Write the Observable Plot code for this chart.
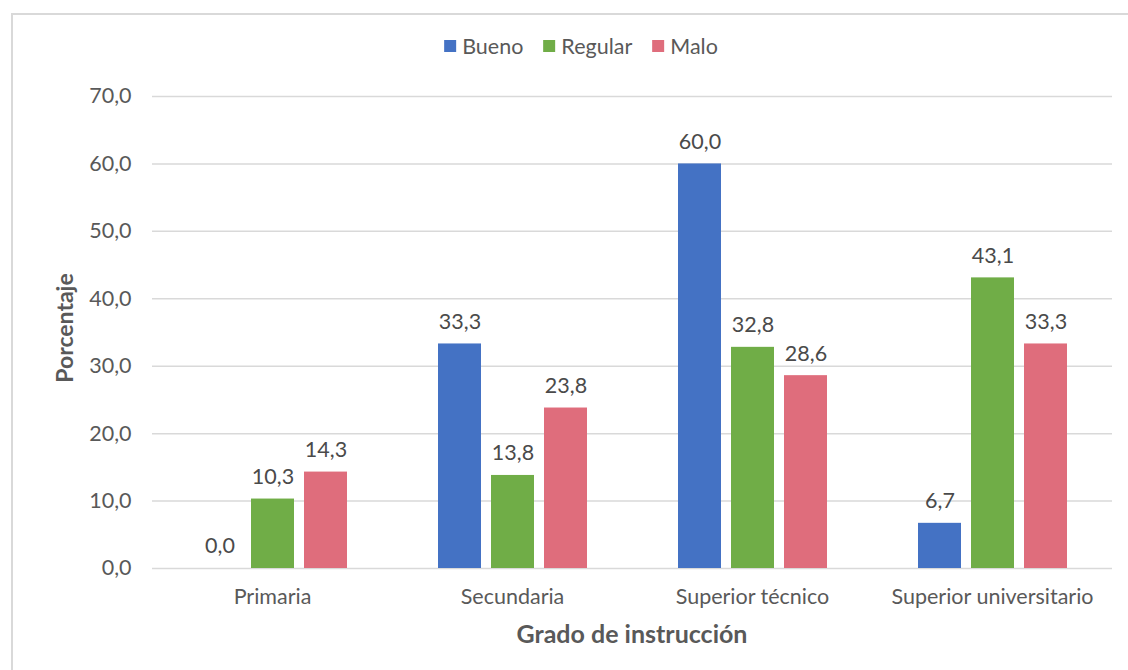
<!DOCTYPE html>
<html>
<head>
<meta charset="utf-8">
<script src="https://cdn.jsdelivr.net/npm/d3@7"></script>
<script src="https://cdn.jsdelivr.net/npm/@observablehq/plot@0.6"></script>
<style>
  body { margin: 0; background: #fff; font-family: Lato, "Open Sans", sans-serif; }
  #chart { position: relative; width: 1128px; height: 670px; overflow: hidden; }
  #frame { position: absolute; left: 11px; top: 13px; width: 1300px; height: 800px;
           border-left: 2px solid #d9d9d9; border-top: 2px solid #d9d9d9; }
  #plot { position: absolute; left: 0; top: 0; }
  #legend { position: absolute; top: 33px; left: 581px; transform: translateX(-50%);
            display: flex; align-items: center; font-size: 21.5px; color: #595959; white-space: nowrap; }
  #legend .item { display: flex; align-items: center; margin: 0 10px; }
  #legend .sw { width: 12px; height: 12px; margin-right: 6px; }
  .ytitle { position: absolute; left: 64px; top: 328px; transform: translate(-50%, -50%) rotate(-90deg);
            font-size: 23px; font-weight: bold; color: #595959; white-space: nowrap; }
  .xtitle { position: absolute; left: 632px; top: 633px; transform: translate(-50%, -50%);
            font-size: 25px; font-weight: bold; color: #595959; white-space: nowrap; }
</style>
</head>
<body>
<div id="chart">
  <div id="frame"></div>
  <div id="plot"></div>
  <div id="legend"></div>
  <div class="ytitle">Porcentaje</div>
  <div class="xtitle">Grado de instrucción</div>
</div>
<script>
// Nivel de valoración por grado de instrucción (%)
const categorias = ["Primaria", "Secundaria", "Superior técnico", "Superior universitario"];
const series = ["Bueno", "Regular", "Malo"];
const bueno = [0.0, 33.3, 60.0, 6.7];
const regular = [10.3, 13.8, 32.8, 43.1];
const malo = [14.3, 23.8, 28.6, 33.3];
const colores = ["#4472c4", "#70ad47", "#df6d7c"];
const yTicks = [0, 10, 20, 30, 40, 50, 60, 70];

const valoresPorSerie = [bueno, regular, malo];
const filas = categorias.flatMap((grado, i) =>
  series.map((nivel, j) => ({ grado, nivel, valor: valoresPorSerie[j][i] }))
);

const fmt = v => v.toFixed(1).replace(".", ",");

const chart = Plot.plot({
  width: 1128,
  height: 670,
  marginLeft: 152,
  marginRight: 16,
  marginTop: 96,
  marginBottom: 102,
  style: { fontFamily: "Lato, sans-serif", fontSize: "21.5px", color: "#595959", background: "transparent", overflow: "visible" },
  fx: { domain: categorias, padding: 0, label: null, tickSize: 0, tickPadding: 20 },
  x: { domain: series, axis: null, paddingInner: 0.1887, paddingOuter: 0.858 },
  y: { domain: [0, 70], ticks: yTicks, tickFormat: fmt, label: null, tickSize: 0, tickPadding: 21 },
  color: { domain: series, range: colores },
  marks: [
    Plot.ruleY(yTicks, { stroke: "#d9d9d9", strokeWidth: 1.5 }),
    Plot.barY(filas, { fx: "grado", x: "nivel", y: "valor", fill: "nivel" }),
    Plot.text(filas, {
      fx: "grado", x: "nivel", y: "valor",
      text: d => fmt(d.valor),
      dy: -22, fill: "#4a4a4a", fontSize: 21.5
    })
  ]
});
document.getElementById("plot").appendChild(chart);

// Leyenda
const legend = document.getElementById("legend");
series.forEach((s, i) => {
  const item = document.createElement("span");
  item.className = "item";
  const sw = document.createElement("span");
  sw.className = "sw";
  sw.style.background = colores[i];
  item.appendChild(sw);
  item.appendChild(document.createTextNode(s));
  legend.appendChild(item);
});
</script>
</body>
</html>
